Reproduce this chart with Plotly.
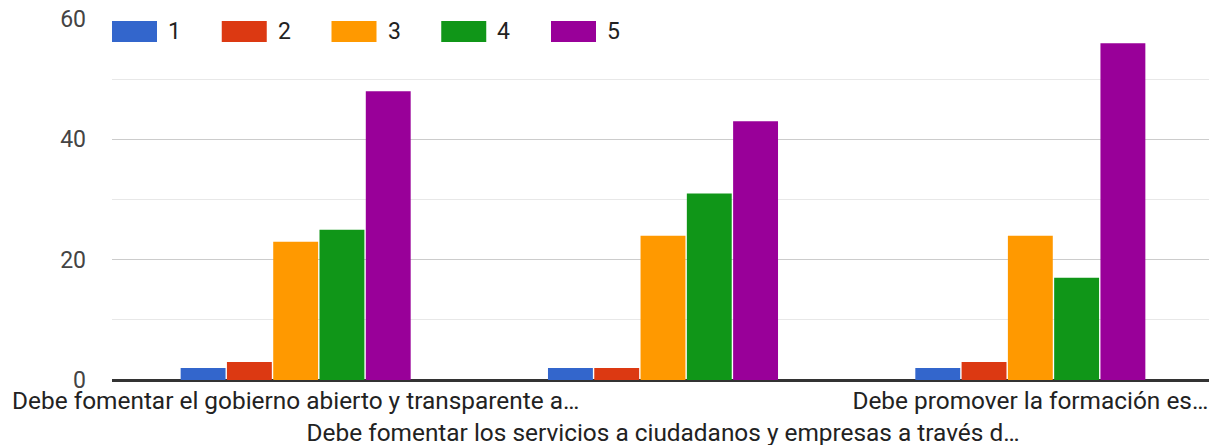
import plotly.graph_objects as go

categories = [
    "Debe fomentar el gobierno abierto y transparente a…",
    "Debe fomentar los servicios a ciudadanos y empresas a través d…",
    "Debe promover la formación es…",
]
series_names = ["1", "2", "3", "4", "5"]
series_values = [
    [2, 2, 2],
    [3, 2, 3],
    [23, 24, 24],
    [25, 31, 17],
    [48, 43, 56],
]
colors = ["#3366cc", "#dc3912", "#ff9900", "#109618", "#990099"]
y_ticks = [0, 20, 40, 60]

# staggered category labels (middle one on a second row)
tick_text = [c if i % 2 == 0 else "<br>" + c for i, c in enumerate(categories)]

OFF = 8  # page body margin
W, H = 1217 - OFF, 445 - OFF
ML, MR, MT, MB = 112 - OFF, 3, 19 - OFF, 65
PW, PH = W - ML - MR, H - MT - MB

def px_x(x):
    return (x - OFF - ML) / PW

def px_y(y):
    return (H - MB - (y - OFF)) / PH

fig = go.Figure()
for name, vals, col in zip(series_names, series_values, colors):
    fig.add_trace(go.Bar(x=categories, y=vals, name=name, marker_color=col,
                         marker_line_width=0, showlegend=False))

# custom legend (Google-style wide swatches)
shapes = []
annotations = []
for i, (name, col) in enumerate(zip(series_names, colors)):
    x0 = 112 + i * 109.75
    shapes.append(dict(type="rect", xref="paper", yref="paper",
                       x0=px_x(x0), x1=px_x(x0 + 45), y0=px_y(42), y1=px_y(21),
                       fillcolor=col, line=dict(width=0), layer="above"))
    annotations.append(dict(xref="paper", yref="paper", x=px_x(x0 + 54), y=px_y(32),
                            text=name, showarrow=False, xanchor="left", yanchor="middle",
                            font=dict(size=23, color="#222222", family="Roboto")))

fig.update_layout(
    width=W, height=H,
    margin=dict(l=ML, r=MR, t=MT, b=MB, autoexpand=False),
    paper_bgcolor="white", plot_bgcolor="white",
    barmode="group", bargap=0.37, bargroupgap=0.03,
    font=dict(family="Roboto", color="#444444"),
    shapes=shapes, annotations=annotations,
    xaxis=dict(type="category", categoryorder="array", categoryarray=categories,
               range=[-0.5, 2.5], tickvals=categories, ticktext=tick_text,
               tickfont=dict(size=24.4, color="#222222", family="Roboto"),
               tickangle=0, ticklabeloverflow="allow",
               showgrid=False, showline=False, ticks="", ticklabelstandoff=4,
               automargin=False),
    yaxis=dict(range=[0, 60.02], tickvals=y_ticks, ticktext=[str(v) for v in y_ticks],
               tickfont=dict(size=23, color="#444444", family="Roboto"),
               ticklabeloverflow="allow",
               showgrid=True, gridcolor="#cccccc", gridwidth=1,
               minor=dict(dtick=10, showgrid=True, gridcolor="#e8e8e8"),
               zeroline=True, zerolinecolor="#333333", zerolinewidth=3,
               ticks="", ticklabelstandoff=25, showline=False, automargin=False),
)

fig.write_html("out.html")
